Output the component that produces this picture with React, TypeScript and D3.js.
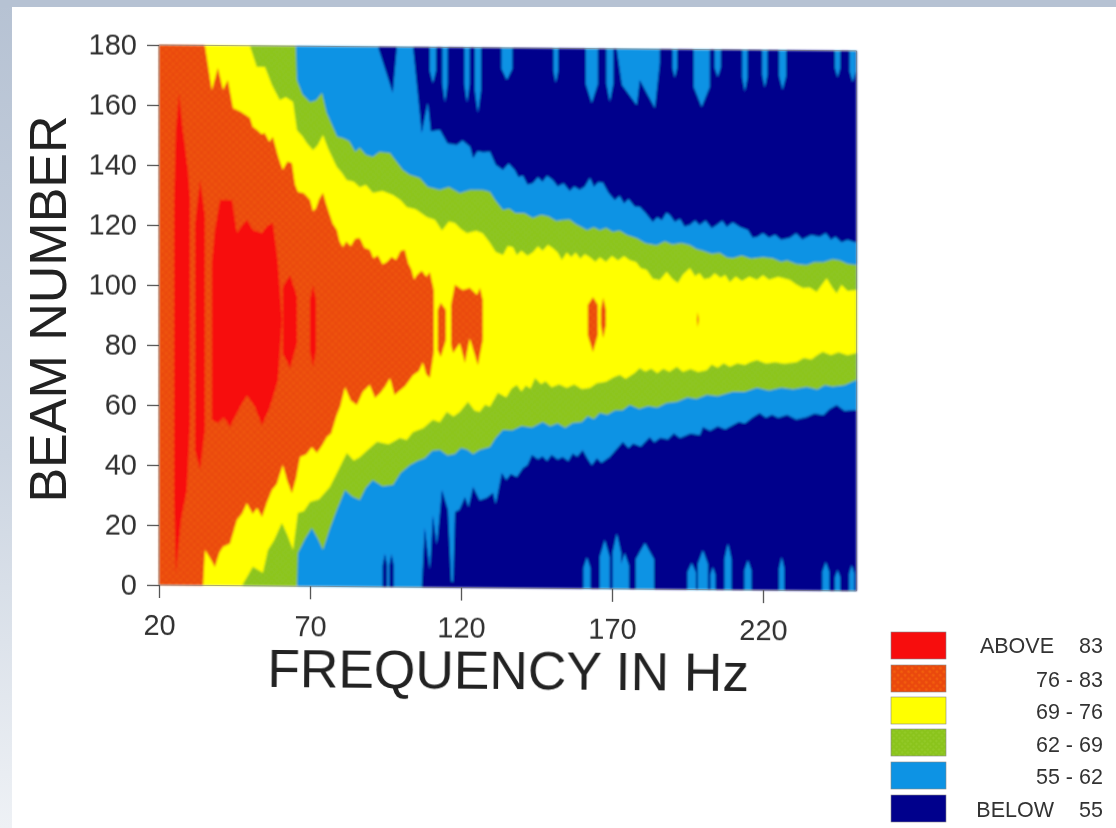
import { useEffect, useRef } from 'react'
import * as d3 from 'd3'

type Pt = number[]

const xTicks = [20, 70, 120, 170, 220]
const yTicks = [0, 20, 40, 60, 80, 100, 120, 140, 160, 180]
const legendLabels = ['ABOVE', '76 -', '69 -', '62 -', '55 -', 'BELOW']
const legendEnds = ['83', '83', '76', '69', '62', '55']

// contour edges, [frequency, beam]
const blueTop: Pt[] = [[20,180],[92.5,180],[97.4,164.7],[98.8,180],[104.1,180],[107,151.4],[109,161.5],[110,152],[113,152.5],[115.5,148],[118.6,147.5],[120.5,149],[123,146.9],[124,143.2],[125.5,145.5],[127.2,145.2],[129.6,145.3],[131.5,141],[133.9,139.3],[135.8,141.5],[137.8,139.3],[139,137],[140.5,137.5],[142,134.5],[143.8,135],[145.5,137],[147,135.5],[148.5,137.5],[150.4,136.1],[152,134],[154,135],[156,132.5],[157.5,134],[159.3,132.9],[161,134],[162.7,136.9],[164,134],[165.5,135.5],[167,135.3],[168.8,132],[170.9,129.6],[172.5,131],[174,128.5],[175.5,130],[177.5,127.5],[179.2,127.4],[181,125.5],[183.5,122.4],[185,124],[186.5,123],[188,125.5],[189.1,124.8],[190.8,122.5],[192.5,123.5],[194,121],[195.8,121.5],[197.5,123],[199,121.5],[201,123],[203,120.5],[204.7,121.6],[206.5,123],[208,121],[210,122.5],[212.3,121],[215,120],[216.5,117.5],[218,117.7],[220,119],[222,117.5],[224,118.5],[226,116.8],[228.9,117.5],[231,119],[233,117],[236,118.5],[238.8,117.9],[240.8,119.2],[242.5,117],[244,118],[246,116.2],[248,117],[251,116]]
const blueBottom: Pt[] = [[20,0],[107,0],[108,19.8],[109.7,5.8],[110.7,24],[112,14.1],[113.7,32.5],[115.7,25.8],[116.8,2],[117.4,2],[118,25.2],[119.5,26],[121.3,30.2],[122.5,27],[124,33.6],[126.2,29.2],[128.5,30],[130.6,31.7],[131.5,28],[133.5,38.3],[135,36],[136.5,38],[138.5,37],[140.5,40],[142,41],[143.5,44.4],[145.5,43],[147,44],[148.5,42.5],[150,44.5],[152,43],[153.7,43.8],[155.5,42.5],[157,45],[158.5,44],[160.3,46.2],[161.8,43.5],[163.3,41.2],[165,43.5],[166.5,42],[169.3,44],[171,46],[173.6,49],[175.5,47],[177,48.5],[179.5,47.5],[182.5,50.7],[184,49],[186,50.5],[188.5,50],[190.5,52],[192.5,50.5],[196,52],[199.1,51.5],[200.1,54.2],[202.5,53],[205,54.5],[207.5,53.5],[210,54.9],[212,56],[214,55.5],[216.5,57.5],[218.9,59],[221,57.5],[223,58.5],[225,57.5],[228,58.5],[231,57],[234.5,57.8],[237,59],[240,58.5],[242,60.5],[244.4,61.9],[247,60],[251,60.3]]
const greenTop: Pt[] = [[20,180],[65.3,180],[65.7,168.7],[67.5,164],[70,161.4],[72,162],[74,164.5],[75.5,158],[77.6,153.2],[79,150],[80.9,149.5],[83,148.5],[85,145],[86.5,146.3],[88.5,144],[90.8,143.3],[93,145],[96.5,144.7],[98.5,142],[100.8,139],[103,137.5],[106.4,136.4],[109,133.5],[113,132.5],[116,133.5],[119.6,131.5],[123,132.6],[127.2,132.6],[129.6,132],[131.5,129],[133.9,126],[136,126.5],[138,125],[141,125],[143.8,123.4],[146.5,124.5],[149,124],[151.5,122.5],[153.7,122.8],[156,123],[158,121.5],[160,120.5],[161.7,119.5],[164,120.5],[166,119.5],[168,120.3],[170.3,119],[172.5,119.5],[175,118],[178.2,117],[181,115.3],[184.8,114.7],[187.5,116],[190,115],[193,115.5],[195.8,114.8],[198,113.5],[200,113],[203,112],[205.7,112.3],[208,110.8],[210,110.6],[213,111.5],[216,110.5],[220,111],[223.2,110.7],[226,109.5],[228,110],[231,108.8],[234.5,108.5],[237,109.5],[240,109.5],[243,110.5],[245.4,110.2],[248,109],[251,108.7]]
const greenBottom: Pt[] = [[20,0],[65.7,0],[66,11],[68.5,16],[70.6,19.4],[72.5,16],[74.3,12.2],[76.5,19],[78.9,25.5],[81.6,32.2],[84,30],[86.5,28.9],[88.5,33],[90.8,35.6],[94,33.5],[97.5,34],[100,38],[103.1,40.7],[105.5,42],[108,43],[110.5,45.5],[113,45.8],[115.5,44],[118,44.5],[120,46.5],[122,46],[124,44.5],[126.2,45.9],[129.6,46.9],[131.5,50],[133.9,52.7],[137,52.5],[140,54],[143.5,53.5],[147.1,55.4],[149.5,54],[152,55],[154.5,53.5],[157,55.2],[160,55.5],[162,57.5],[164,56.5],[166,58.6],[168.5,58],[171,59.5],[173.5,59.5],[175.9,61.3],[179,60],[182,61],[185,60.5],[188.1,62.1],[191.5,62.5],[195,64],[198,63.5],[201.4,64.9],[205,64.5],[210,66],[214,66],[218,67.4],[222,66.5],[226,67.5],[230,67],[234.5,67.8],[238,67],[240.5,68.5],[243,68],[247,68.5],[251,70.3]]
const yellowTop: Pt[] = [[20,180],[50.1,180],[52.4,173],[55.1,173],[57.4,167],[60,162],[62,163],[64.4,161.4],[65.7,152],[67.5,150],[69,147.7],[71,145.4],[72.5,147],[74.3,150.5],[76,146],[78.9,139.8],[80.5,138],[82.2,135.5],[84.5,135],[86.5,133.2],[88.5,134],[90.8,131.3],[94,132],[97.5,130.7],[100,129],[102.1,126.7],[105,126],[108.7,123.4],[111.4,122.5],[113.7,119],[116,122],[118,121.5],[120,119.5],[122,118.2],[125,119],[127.2,118.2],[129.6,115],[131.5,112],[133.9,111],[135.5,114],[137.2,113.7],[138.5,111],[140,112.5],[142,110.8],[143.8,112],[145.5,114],[147,112.5],[148.8,114.5],[150.4,113.4],[152,112],[153.4,109.5],[155,112],[156.5,110.5],[158,112],[159.5,110],[161,111.5],[162.7,110.5],[164.5,109],[166,110.5],[168,109],[170,111],[172,109.5],[174,111],[175.9,109.6],[178,109],[179.5,107],[181.5,106.4],[183.5,103.5],[185.8,103.1],[188.1,105.8],[190,103.5],[191.8,102.2],[193.5,105],[195.8,107.2],[197.5,104.5],[199,105.5],[200.5,103.5],[202.4,103.9],[204,105.5],[206,104],[207.5,105],[209,102.6],[211,104.5],[213,103],[215.5,104.5],[218,103.4],[220,105],[222,103.5],[225,104.5],[228.9,103.5],[231,102],[233.2,100.8],[235.5,101],[237.8,99.6],[239.5,102],[241.1,104.2],[243,101],[244.4,99.2],[246,102],[248,100],[251,100.3]]
const yellowBottom: Pt[] = [[20,0],[47.5,0],[51.1,6.3],[54.4,4.3],[56.1,12],[58,15],[60.7,21],[62.5,17],[64.4,12],[66,24.4],[68,25],[70,28.1],[73,29],[76.6,33.2],[79,38],[82.2,44.5],[84.5,42],[86.5,43.2],[89,45.5],[92.2,48.3],[96,47.5],[99.8,49.7],[102,49],[104.1,51.7],[107.5,53],[110.7,55.8],[113,55],[115.3,58.5],[117.5,57],[119.6,58.5],[122.3,61.9],[124.5,59],[126.2,58.6],[128,61],[129.6,60.3],[132.2,65],[135,63.5],[136.8,66.5],[138.5,67.7],[140,65.5],[141.5,67.5],[143,66.5],[144.5,70],[146.5,68],[148,69],[150,67],[152.5,68],[155,66.8],[157.5,68],[160,66.5],[162.7,66.9],[165,68.5],[168,69],[170.5,70.5],[172.6,71.3],[174.5,70],[176,71],[177.5,72],[179.2,73.7],[181,72.5],[183,73.5],[185,72],[187,73.5],[189,72.5],[191.5,74.2],[193.5,72.5],[196,73.5],[198.5,72.5],[201.4,73.2],[203,75],[205,74],[207,75.5],[209,74.3],[211.5,75.5],[214,75],[216,76],[218,76.7],[221,75.5],[224,76],[227,75.5],[231.2,76.1],[233.5,77.5],[236,77],[238,78.5],[239.8,79.6],[242.5,78.5],[245,79.5],[248,78.5],[251,79.3]]
const orangeTop: Pt[] = [[20,180],[35.2,180],[37.5,165],[39.5,172.5],[41.2,165.2],[42.8,168.5],[44.5,159.2],[47,158],[50.1,156],[51,153],[52.4,152],[54,150.5],[55,151],[56.5,148],[57.7,149.7],[59.5,143],[61,138.7],[62.5,141.5],[64,141],[65,134],[66,131.4],[68,131],[70,128.8],[71,125],[72,126],[73,129],[74.3,131.2],[75.5,127],[76.5,124],[77.5,121],[78.9,118.8],[79.8,115],[80.9,113.2],[82,115],[83.5,113.5],[85,116],[86.5,116.2],[88,113],[89.8,112.3],[91,109.5],[92.5,110.5],[94,107.5],[95.5,108.3],[97,110],[98.5,109],[100,112],[101.4,112.4],[102.5,108],[103.5,106],[104.5,102.5],[105.4,104],[107,105.5],[108.5,103.5],[109.7,105],[111,99]]
const orangeBottom: Pt[] = [[20,0],[34.6,0],[35.2,11.8],[37,9],[38.5,6.2],[40,11],[41.2,12.9],[43.5,14],[45.8,21.9],[47.5,24],[49.1,27.6],[51,24],[52.5,26],[54.1,23],[55.8,28],[57.4,32],[59,34],[61,40.4],[62.5,35],[64,31],[65.4,36],[66.7,43.1],[68.8,44],[70.6,46.4],[72.3,44.5],[74,47],[75.6,49.8],[77,51],[78.8,57],[80,60],[81.6,66.5],[83.5,62],[85.5,60.6],[87.5,65],[89.8,67.3],[91.5,63],[93.2,64.6],[95,67],[96.5,69.7],[98,64],[99.1,65],[101.5,67],[104.1,70.7],[106,72],[107.4,75],[108.5,71],[109.7,69.8],[111,78.5]]

// orange islands past the main body
const islandTops: Pt[][] = [
  [[112.3,92.5],[113.3,94.8],[115,92.5]],
  [[116.7,94.2],[118,100.9],[120.6,99.2],[122.9,99.9],[125.3,97.6],[126.3,99.9],[127.2,95.9]],
  [[162,94.5],[163.7,97.2],[165.3,94.6]],
  [[166.3,93],[167.1,97],[168,93]],
  [[198.1,90],[198.4,92.5],[198.7,90]],
]
const islandBottoms: Pt[][] = [
  [[112.3,79.1],[113.3,76.8],[115,82.5]],
  [[116.7,80.8],[117.4,78.2],[119.6,81.5],[121.3,74.9],[122.9,83.2],[125.6,74.2],[127.2,82.6]],
  [[162,84.5],[163.7,78.9],[165.3,84.6]],
  [[166.3,88],[167.1,83.6],[168,88]],
  [[198.1,90],[198.4,87.5],[198.7,90]],
]

// red regions: two low frequency stripes, the main lobe, two thin stripes
const redTops: Pt[][] = [
  [[25,128.4],[25.6,151.7],[26.6,164],[27.9,151.7],[29.6,138.4],[30.3,128.4]],
  [[31.9,120.1],[33.6,135.1],[35.2,123.5]],
  [[37.5,107.5],[38.5,118.5],[40.2,128.5],[44.2,128.5],[45.8,117.5],[47.5,120],[49.1,121.9],[51.1,118.6],[54.1,117.6],[55.8,120],[57.7,121],[59.4,107.7],[60.7,88.7]],
  [[61,99.7],[63.4,103.7],[65.7,96.4]],
  [[70,95.4],[71,100.4],[72,95.4]],
]
const redBottoms: Pt[][] = [
  [[25,28.4],[25.6,4.1],[27.3,21.8],[29.2,31.7],[30.3,55]],
  [[31.9,45.1],[33.6,38.5],[35.2,51.8]],
  [[37.5,55.2],[39.5,54.2],[41.5,56],[43.5,52.9],[46,58],[49.1,63.6],[51.8,59.6],[54.1,53.6],[56.7,59.6],[59.4,68.7],[60.7,88.7]],
  [[61,77.7],[63.4,72.7],[65.7,81.1]],
  [[70,78.7],[71,73.1],[72,78.7]],
]

// light fingers reaching into the dark blue: centre, width in Hz, tip beam
const topFingers: number[][] = [[110.7,2,168],[114.7,1.7,161.5],[122,1.7,161.5],[125.6,2,158.2],[135.2,3.6,169.3],[151.4,1.5,168.4],[163.3,4,161.9],[169.3,2.3,162.3],[190.8,1.5,170.5],[199.7,5.3,160.9],[205,2,170.9],[214,1.7,166],[220.6,1.7,167.4],[226.5,2.3,166.8],[244.7,1.7,171.2],[249.7,2,169.6]]
const bottomFingers: number[][] = [[161.7,2.3,10.5],[167.6,3.3,16.3],[171.6,2.8,18.6],[174.2,2.8,12],[180.9,6,15.4],[196.4,2.8,8.8],[200.1,3.3,13.2],[203.4,1.7,7.6],[208.4,2.3,15.6],[215,2.3,10],[226.2,1.7,11.1],[240.8,2.3,9.6],[244.7,1.7,6.9],[249.4,1.7,8.7]]
const topFingerBlock: Pt[] = [[171.6,180],[173.3,168],[178.2,161.3],[179.2,169.7],[184.2,160.4],[185.8,175.4],[185.8,180]]
// dark slivers standing in the blue near the bottom edge
const darkBars: number[][] = [[94.8,1.5,11],[97,1.5,11]]

const BLUE = '#0a93e4'
const NAVY = '#00008c'
const YELLOW = '#ffff00'
const RED = '#f70a0c'

export default function App() {
  const xAxisRef = useRef<SVGGElement>(null)
  const yAxisRef = useRef<SVGGElement>(null)

  const x = d3.scaleLinear().domain([20, 251]).range([159, 856.6])
  const y = d3.scaleLinear().domain([0, 180]).range([585, 45])
  const line = d3.line<Pt>().x(d => x(d[0])).y(d => y(d[1]))

  const band = (top: Pt[], bottom: Pt[]) => line([...top, ...bottom.slice().reverse()]) + 'Z'
  const finger = (f: number[], edge: number) => {
    const [c, w, tip] = f
    const mid = edge + (tip - edge) * 0.65
    return line([[c - w / 2, edge], [c - w / 2, mid], [c, tip], [c + w / 2, mid], [c + w / 2, edge]]) + 'Z'
  }

  useEffect(() => {
    const style = (g: d3.Selection<SVGGElement, unknown, null, undefined>) => {
      g.select('.domain').remove()
      g.selectAll('line').attr('stroke', '#555').attr('stroke-width', 1.3)
      g.selectAll('text')
        .attr('font-family', '"Liberation Sans", Arial, sans-serif')
        .attr('font-size', 29)
        .attr('fill', '#333')
    }
    d3.select(xAxisRef.current!)
      .call(d3.axisBottom(x).tickValues(xTicks).tickSize(13).tickPadding(16) as any)
      .call(style as any)
    d3.select(yAxisRef.current!)
      .call(d3.axisLeft(y).tickValues(yTicks).tickSize(12).tickPadding(10) as any)
      .call(style as any)
  }, [])

  const swatchY = [632, 665, 697, 729, 762, 795]
  const swatchFill = [RED, 'url(#orangeHatch)', YELLOW, 'url(#greenHatch)', BLUE, NAVY]
  const legendBase = [653, 687, 719, 752, 784, 817]
  const font = '"Liberation Sans", Arial, sans-serif'

  return (
    <svg width={1116} height={828} style={{ position: 'fixed', left: 0, top: 0 }}>
      <defs>
        <linearGradient id="frame" x1="0" x2="0" y1="0" y2="1">
          <stop offset="0" stopColor="#b6c2d3" />
          <stop offset="0.55" stopColor="#ccd5e1" />
          <stop offset="1" stopColor="#eef1f5" />
        </linearGradient>
        <pattern id="orangeHatch" width="5" height="5" patternUnits="userSpaceOnUse" patternTransform="rotate(45)">
          <rect width="5" height="5" fill="#ea4a10" />
          <circle cx="2.5" cy="2.5" r="1.3" fill="#f4600f" />
        </pattern>
        <pattern id="greenHatch" width="4" height="4" patternUnits="userSpaceOnUse" patternTransform="rotate(45)">
          <rect width="4" height="4" fill="#8bc41f" />
          <circle cx="2" cy="2" r="0.9" fill="#97cc2a" />
        </pattern>
        <filter id="soft" x="-2%" y="-2%" width="104%" height="104%">
          <feGaussianBlur stdDeviation="0.8" />
        </filter>
        <filter id="softText" x="-5%" y="-5%" width="110%" height="110%">
          <feGaussianBlur stdDeviation="0.4" />
        </filter>
      </defs>

      <rect width={1116} height={828} fill="url(#frame)" />
      <rect y={0} width={1116} height={7} fill="#b6c2d3" />
      <rect x={12} y={7} width={1104} height={821} fill="#fff" />

      {/* the scan leans a little, plot and axes share that shear */}
      <g transform={`matrix(1,0.0085,0,1,0,${-0.0085 * 159})`}>
        <g filter="url(#soft)">
          <rect x={x(20)} y={y(180)} width={x(251) - x(20)} height={y(0) - y(180)} fill={NAVY} />
          {topFingers.map((f, i) => <path key={i} d={finger(f, 180)} fill={BLUE} />)}
          {bottomFingers.map((f, i) => <path key={i} d={finger(f, 0)} fill={BLUE} />)}
          <path d={line(topFingerBlock) + 'Z'} fill={BLUE} />
          <path d={band(blueTop, blueBottom)} fill={BLUE} />
          {darkBars.map((f, i) => <path key={i} d={finger(f, 0)} fill={NAVY} />)}
          <path d={band(greenTop, greenBottom)} fill="url(#greenHatch)" />
          <path d={band(yellowTop, yellowBottom)} fill={YELLOW} />
          <path d={band(orangeTop, orangeBottom)} fill="url(#orangeHatch)" />
          {islandTops.map((t, i) => <path key={i} d={band(t, islandBottoms[i])} fill="url(#orangeHatch)" />)}
          {redTops.map((t, i) => <path key={i} d={band(t, redBottoms[i])} fill={RED} />)}
        </g>
        <rect x={x(20)} y={y(180)} width={x(251) - x(20)} height={y(0) - y(180)} fill="none" stroke="#666" strokeWidth={0.8} strokeOpacity={0.7} />
        <g ref={xAxisRef} transform={`translate(0,${y(0)})`} filter="url(#softText)" />
        <g ref={yAxisRef} transform={`translate(${x(20)},0)`} filter="url(#softText)" />
      </g>

      <text transform="translate(66,309) rotate(-90)" textAnchor="middle" fontFamily={font} fontSize={52} fill="#222" filter="url(#softText)">BEAM NUMBER</text>
      <text transform="translate(508,689) rotate(0.5)" textAnchor="middle" fontFamily={font} fontSize={53.3} fill="#222" filter="url(#softText)">FREQUENCY IN Hz</text>

      {legendLabels.map((label, i) => (
        <g key={label} filter="url(#softText)">
          <rect x={891} y={swatchY[i]} width={55} height={27} fill={swatchFill[i]} stroke="#888" strokeWidth={0.6} />
          <text x={i === 0 || i === 5 ? 1054 : 1073} y={legendBase[i]} textAnchor="end" fontFamily={font} fontSize={21.5} fill="#333">{label}</text>
          <text x={1103} y={legendBase[i]} textAnchor="end" fontFamily={font} fontSize={21.5} fill="#333">{legendEnds[i]}</text>
        </g>
      ))}
    </svg>
  )
}
